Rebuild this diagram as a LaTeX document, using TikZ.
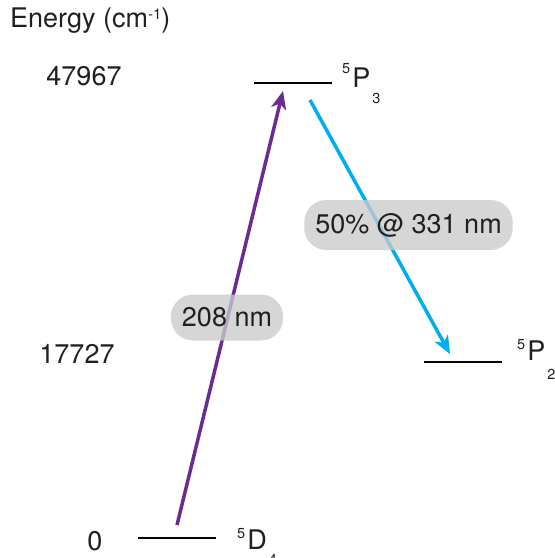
\documentclass[tikz,border=0pt]{standalone}
\usepackage{fontspec}
\setmainfont{TeX Gyre Heros}
\usetikzlibrary{arrows.meta}
\definecolor{txt}{HTML}{231F20}
\definecolor{uvpurple}{HTML}{6A2C91}
\definecolor{uvblue}{HTML}{00AEEF}
\definecolor{boxgray}{HTML}{C9CACB}
% #1 letter, #2 superscript, #3 subscript, #4 raise, #5 lower
\newcommand{\lvlab}[5]{{\raisebox{#4}{\fontsize{14.5}{15}\selectfont #2}\hspace{2pt}#1\hspace{2pt}\raisebox{-#5}{\fontsize{14.5}{15}\selectfont #3}}}
\tikzset{
  bigtext/.style={text=txt, inner sep=0pt, font=\fontsize{27}{30}\selectfont},
  levelline/.style={draw=black, line width=2pt},
  transition/.style={line width=3.5pt, -{Stealth[length=18pt, width=15pt, inset=5pt]}},
  pill/.style={fill=boxgray, fill opacity=0.78, text opacity=1, text=txt, rounded corners=22pt,
    inner xsep=11pt, inner ysep=0pt, font=\fontsize{27}{30}\selectfont},
}
\begin{document}
\begin{tikzpicture}[x=1pt, y=-1pt]
\useasboundingbox (0,0) rectangle (555,558);
% axis title
\node[bigtext, anchor=base west] (title) at (10,27) {Energy (cm\raisebox{8pt}{\fontsize{15}{15}\selectfont -1})};
% energies
\node[bigtext, anchor=base] (e3) at (84,85) {47967};
\node[bigtext, anchor=base] (e2) at (77,363) {17727};
\node[bigtext, anchor=base] (e0) at (95,550) {0};
% level lines
\coordinate (p3a) at (254,83);
\coordinate (p3b) at (332,83);
\coordinate (p2a) at (424,362);
\coordinate (p2b) at (502,362);
\coordinate (d4a) at (138,538);
\coordinate (d4b) at (216,538);
\draw[levelline] (p3a) -- (p3b);
\draw[levelline] (p2a) -- (p2b);
\draw[levelline] (d4a) -- (d4b);
% level labels
\node[bigtext, anchor=base west] (lp3) at (342,87) {\lvlab{P}{5}{3}{14pt}{16pt}};
\node[bigtext, anchor=base west] (lp2) at (517,360) {\lvlab{P}{5}{2}{11pt}{19pt}};
\node[bigtext, anchor=base west] (ld4) at (237,549) {\lvlab{D}{5}{4}{11pt}{15pt}};
% transitions
\coordinate (absS) at (177,525);
\coordinate (absE) at (283,91);
\coordinate (emS) at (310,100);
\coordinate (emE) at (450,354);
\draw[transition, draw=uvpurple, fill=uvpurple] (absS) -- (absE);
\draw[transition, draw=uvblue, fill=uvblue] (emS) -- (emE);
% labels
\node[pill, minimum height=46pt] (l208) at (227,317.5) {208 nm};
\node[pill, minimum height=50pt] (l331) at (408.5,225) {50\% @ 331 nm};
\end{tikzpicture}
\end{document}
